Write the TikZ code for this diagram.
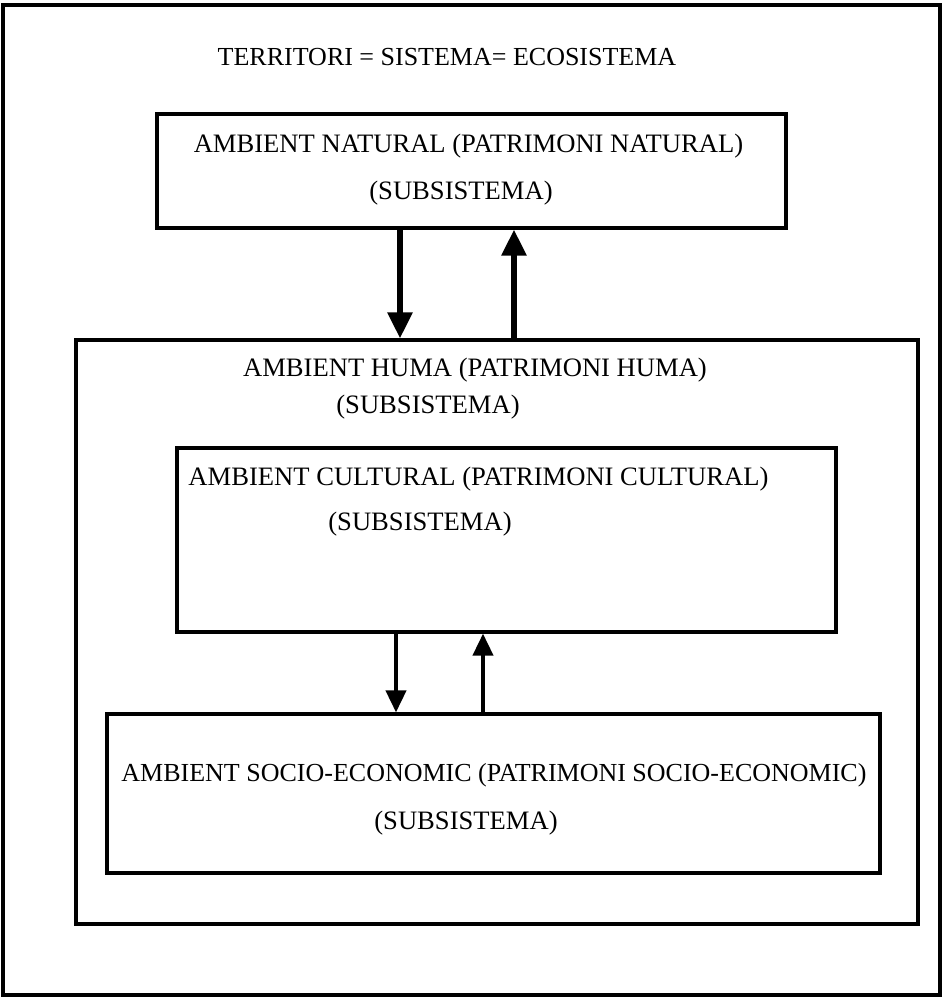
\documentclass[tikz,border=0pt]{standalone}
\usepackage{fontspec}
\setmainfont{Liberation Serif}
\usetikzlibrary{arrows.meta}
\begin{document}
\begin{tikzpicture}[x=0.5pt,y=-0.5pt]
\tikzstyle{every node}+=[inner sep=0pt]
\tikzstyle{box}=[draw=black,line width=1.6pt,rectangle]
\tikzstyle{lbl}=[font=\fontsize{13.3}{15}\selectfont]
\tikzstyle{smalllbl}=[font=\fontsize{13}{15}\selectfont]
\tikzstyle{flow}=[line width=2.8pt,-{Triangle[length=13pt,width=12pt]}]
\tikzstyle{thinflow}=[line width=2pt,-{Triangle[length=11pt,width=10pt]}]
\useasboundingbox (0,0) rectangle (945,997);
\node [box,minimum width=468.5pt,minimum height=495pt] (frame) at (471.5,500) {};
\node [smalllbl] (title) at (447,57) {TERRITORI = SISTEMA= ECOSISTEMA};
\node [box,minimum width=314.5pt,minimum height=57pt] (natural) at (471.5,171) {};
\node [lbl] (naturalA) at (468.5,146) {AMBIENT NATURAL (PATRIMONI NATURAL)};
\node [lbl] (naturalB) at (461,193) {(SUBSISTEMA)};
\node [box,minimum width=421pt,minimum height=292pt] (huma) at (497,632) {};
\node [lbl] (humaA) at (475,370) {AMBIENT HUMA (PATRIMONI HUMA)};
\node [lbl] (humaB) at (428,407) {(SUBSISTEMA)};
\node [box,minimum width=329.5pt,minimum height=92pt] (cultural) at (506.5,540) {};
\node [lbl] (culturalA) at (478.5,479) {AMBIENT CULTURAL (PATRIMONI CULTURAL)};
\node [lbl] (culturalB) at (420,524) {(SUBSISTEMA)};
\node [box,minimum width=386.5pt,minimum height=79.5pt] (socio) at (493.5,793.5) {};
\node [smalllbl] (socioA) at (494,775) {AMBIENT SOCIO-ECONOMIC (PATRIMONI SOCIO-ECONOMIC)};
\node [lbl] (socioB) at (466,823) {(SUBSISTEMA)};
\coordinate (nh1) at (400,0);
\coordinate (nh2) at (514,0);
\coordinate (cs1) at (396,0);
\coordinate (cs2) at (483,0);
\draw [flow] (natural.south -| nh1) -- (huma.north -| nh1);
\draw [flow] (huma.north -| nh2) -- (natural.south -| nh2);
\draw [thinflow] (cultural.south -| cs1) -- (socio.north -| cs1);
\draw [thinflow] (socio.north -| cs2) -- (cultural.south -| cs2);
\end{tikzpicture}
\end{document}
